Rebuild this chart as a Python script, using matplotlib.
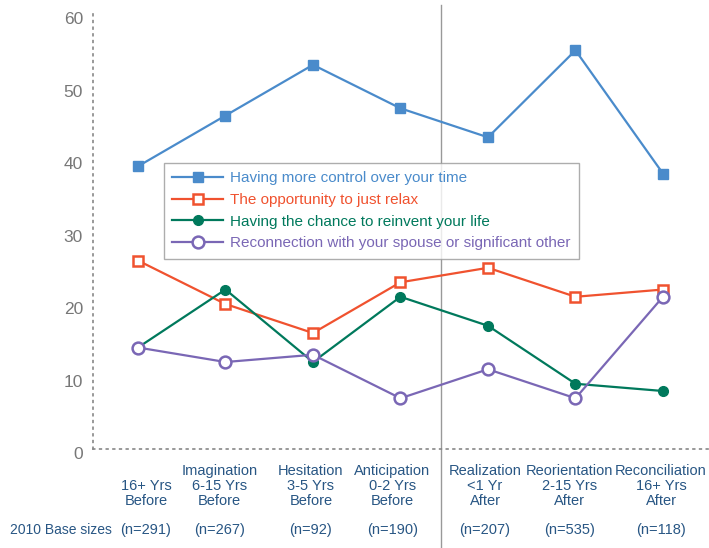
import matplotlib
matplotlib.use("Agg")
import matplotlib.pyplot as plt
from matplotlib.transforms import ScaledTranslation

# Life-stage categories and sample sizes
stages = [
    "16+ Yrs\nBefore",
    "Imagination\n6-15 Yrs\nBefore",
    "Hesitation\n3-5 Yrs\nBefore",
    "Anticipation\n0-2 Yrs\nBefore",
    "Realization\n<1 Yr\nAfter",
    "Reorientation\n2-15 Yrs\nAfter",
    "Reconciliation\n16+ Yrs\nAfter",
]
base_sizes = ["(n=291)", "(n=267)", "(n=92)", "(n=190)", "(n=207)", "(n=535)", "(n=118)"]

# Percent of respondents per stage
more_control = [39, 46, 53, 47, 43, 55, 38]
just_relax = [26, 20, 16, 23, 25, 21, 22]
reinvent_life = [14, 22, 12, 21, 17, 9, 8]
reconnection = [14, 12, 13, 7, 11, 7, 21]

series_labels = [
    "Having more control over your time",
    "The opportunity to just relax",
    "Having the chance to reinvent your life",
    "Reconnection with your spouse or significant other",
]
yticks = [0, 10, 20, 30, 40, 50, 60]

# Horizontal nudges (pixels) for the stage captions under each point
caption_shift_px = [8, -6, -2, -8, -3, -6, -2]

BLUE = "#4a8bcb"
RED = "#f0522f"
GREEN = "#00795c"
PURPLE = "#7a67b5"
TEXT_BLUE = "#285684"
GRAY = "#777777"

plt.rcParams["font.family"] = ["Liberation Sans", "DejaVu Sans"]

fig = plt.figure(figsize=(7.09, 5.48), dpi=100)
ax = fig.add_axes([93 / 709, 99 / 548, 616 / 709, 436 / 548])

x = list(range(len(stages)))
styles = [
    dict(color=BLUE, marker="s", markersize=7.5, markerfacecolor=BLUE, markeredgecolor=BLUE),
    dict(color=RED, marker="s", markersize=7.5, markerfacecolor="white", markeredgecolor=RED, markeredgewidth=1.8),
    dict(color=GREEN, marker="o", markersize=7, markerfacecolor=GREEN, markeredgecolor=GREEN),
    dict(color=PURPLE, marker="o", markersize=8.5, markerfacecolor="white", markeredgecolor=PURPLE, markeredgewidth=1.8),
]
data = [more_control, just_relax, reinvent_life, reconnection]
handles = []
for vals, st, lab in zip(data, styles, series_labels):
    (h,) = ax.plot(x, vals, linewidth=1.6, label=lab, zorder=3, clip_on=False, **st)
    handles.append(h)

ax.set_xlim(-0.514, 6.526)
ax.set_ylim(0, 60.15)
ax.set_yticks(yticks)
ax.set_yticklabels([str(t) for t in yticks], fontsize=12.5, color=GRAY)
ax.tick_params(axis="y", length=0, pad=7.2)
ax.set_xticks([])
# y labels sit a little below their gridline level
shift_down = ScaledTranslation(0, -4 / 100, fig.dpi_scale_trans)
for lbl in ax.get_yticklabels():
    lbl.set_transform(lbl.get_transform() + shift_down)

for s in ["top", "right"]:
    ax.spines[s].set_visible(False)
for s in ["left", "bottom"]:
    ax.spines[s].set_linestyle((0, (1, 3)))
    ax.spines[s].set_color("#888888")
    ax.spines[s].set_linewidth(1.2)

# Divider between before/after stages
ax.axvline(3.46, ymin=-0.227, ymax=1.018, color="#999999", linewidth=1.0, clip_on=False, zorder=1)

# Stage captions (bottom-aligned) and base sizes
for xi, lab, n, dx in zip(x, stages, base_sizes, caption_shift_px):
    ax.annotate(lab, xy=(xi, 0), xycoords="data", xytext=(dx, -59),
                textcoords="offset pixels", ha="center", va="bottom", fontsize=10.5,
                color=TEXT_BLUE, linespacing=1.1, annotation_clip=False)
    ax.annotate(n, xy=(xi, 0), xycoords="data", xytext=(dx, -81),
                textcoords="offset pixels", ha="center", va="center", fontsize=10.5,
                color=TEXT_BLUE, annotation_clip=False)
fig.text(10 / 709, 1 - 530 / 548, "2010 Base sizes", ha="left", va="center", fontsize=10, color=TEXT_BLUE)

leg = ax.legend(handles=handles, loc="upper left", bbox_to_anchor=(0.1153, 0.656),
                borderaxespad=0, fontsize=11, frameon=True, fancybox=False,
                handlelength=3.3, handletextpad=0.5, labelspacing=0.5,
                borderpad=0.55)
leg.get_frame().set_edgecolor("#999999")
leg.get_frame().set_linewidth(1.0)
for txt, c in zip(leg.get_texts(), [BLUE, RED, GREEN, PURPLE]):
    txt.set_color(c)
leg.set_zorder(5)

fig.savefig("out.png", dpi=100)
